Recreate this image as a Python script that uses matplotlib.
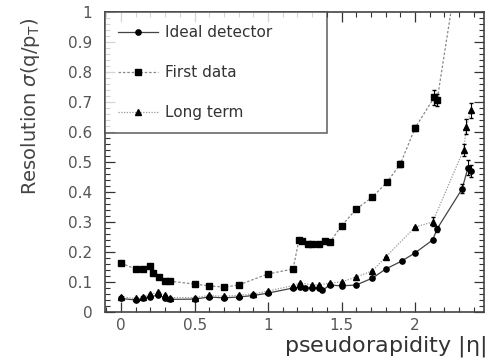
import numpy as np
import matplotlib
matplotlib.use("Agg")
import matplotlib.pyplot as plt
from matplotlib.ticker import MultipleLocator, FuncFormatter

plt.rcParams['font.family'] = ['DejaVu Sans']

# ideal detector
eta_ideal = [0, 0.1, 0.15, 0.2, 0.25, 0.3, 0.33, 0.5, 0.6, 0.7, 0.8, 0.9, 1.0,
             1.17, 1.22, 1.25, 1.3, 1.35, 1.37, 1.42, 1.5, 1.6, 1.71, 1.8, 1.91,
             2.0, 2.12, 2.15, 2.32, 2.36, 2.38]
res_ideal = [0.045, 0.04, 0.045, 0.05, 0.057, 0.047, 0.042, 0.043, 0.05, 0.047,
             0.05, 0.055, 0.063, 0.08, 0.083, 0.08, 0.08, 0.08, 0.072, 0.09,
             0.087, 0.09, 0.113, 0.143, 0.17, 0.197, 0.24, 0.277, 0.41, 0.48, 0.47]
err_ideal = [0] * 26 + [0.005, 0.01, 0.015, 0.025, 0.02]

# first data
eta_first = [0, 0.1, 0.15, 0.2, 0.22, 0.26, 0.3, 0.33, 0.5, 0.6, 0.7, 0.8, 1.0,
             1.17, 1.21, 1.23, 1.27, 1.3, 1.35, 1.39, 1.42, 1.5, 1.6, 1.71, 1.81,
             1.9, 2.0, 2.13, 2.15, 2.35]
res_first = [0.163, 0.143, 0.143, 0.152, 0.13, 0.117, 0.103, 0.103, 0.093, 0.087,
             0.083, 0.09, 0.127, 0.143, 0.24, 0.235, 0.228, 0.225, 0.228, 0.237,
             0.232, 0.287, 0.343, 0.383, 0.433, 0.493, 0.613, 0.715, 0.705, 1.33]
err_first = [0] * 24 + [0.005, 0.01, 0.01, 0.025, 0.02, 0.03]

# long term
eta_long = [0, 0.1, 0.15, 0.2, 0.25, 0.3, 0.33, 0.5, 0.6, 0.7, 0.8, 0.9, 1.0,
            1.17, 1.22, 1.3, 1.35, 1.42, 1.5, 1.6, 1.71, 1.8, 2.0, 2.12, 2.33,
            2.35, 2.38]
res_long = [0.05, 0.045, 0.05, 0.06, 0.065, 0.055, 0.048, 0.048, 0.055, 0.052,
            0.056, 0.06, 0.07, 0.088, 0.097, 0.09, 0.09, 0.097, 0.1, 0.117,
            0.137, 0.183, 0.283, 0.30, 0.54, 0.617, 0.673]
err_long = [0] * 23 + [0.015, 0.02, 0.025, 0.025]

fig = plt.figure(figsize=(4.88, 3.63), dpi=100)
ax = fig.add_axes([0.215, 0.1405, 0.777, 0.8265])

series = [
    (eta_ideal, res_ideal, err_ideal, '#444444', '-', 'o', 'Ideal detector'),
    (eta_first, res_first, err_first, '#888888', (0, (2, 1.5)), 's', 'First data'),
    (eta_long, res_long, err_long, '#999999', (0, (1, 1.2)), '^', 'Long term'),
]
for x, y, e, col, ls, mk, lab in series:
    ax.plot(x, y, color=col, lw=0.9, ls=ls, marker=mk, ms=3.8,
            mfc='black', mec='black', label=lab)
    ax.errorbar(x, y, yerr=e, fmt='none', ecolor='black',
                elinewidth=0.8, capsize=1.5)

ax.set_xlim(-0.11, 2.47)
ax.set_ylim(0, 1)
ax.xaxis.set_major_locator(MultipleLocator(0.5))
ax.xaxis.set_minor_locator(MultipleLocator(0.1))
ax.yaxis.set_major_locator(MultipleLocator(0.1))
ax.yaxis.set_minor_locator(MultipleLocator(0.02))
ax.yaxis.set_major_formatter(FuncFormatter(lambda v, p: '%g' % round(v, 2)))
ax.xaxis.set_major_formatter(FuncFormatter(lambda v, p: '%g' % round(v, 2)))
ax.tick_params(which='both', direction='in', top=True, right=True,
               labelsize=11, colors='#333333', labelcolor='#555555')
ax.tick_params(which='major', length=7, width=0.9)
ax.tick_params(which='minor', length=3.5, width=0.8)
ax.tick_params(axis='x', pad=4)
ax.tick_params(axis='y', pad=9)
for s in ax.spines.values():
    s.set_color('#444444')
    s.set_linewidth(1.2)

ax.set_ylabel(r'Resolution $\sigma$(q/p$_\mathregular{T}$)', fontsize=14,
              color='#444444')
ax.yaxis.set_label_coords(-0.165, 0.98)
ax.yaxis.label.set_horizontalalignment('right')
ax.set_xlabel(r'pseudorapidity |$\mathregular{\eta}$|', fontsize=16, color='#333333')
ax.xaxis.set_label_coords(1.005, -0.075)
ax.xaxis.label.set_horizontalalignment('right')

leg = ax.legend(loc='upper left', bbox_to_anchor=(0.0, 0.6, 0.585, 0.4),
                mode='expand', fontsize=11, frameon=True, fancybox=False,
                borderaxespad=0, handlelength=2.6, labelspacing=1.65,
                borderpad=0.85, handletextpad=0.5)
leg.get_frame().set_edgecolor('#444444')
leg.get_frame().set_linewidth(1.2)
for t in leg.get_texts():
    t.set_color('#333333')

fig.savefig('out.png', dpi=100)
